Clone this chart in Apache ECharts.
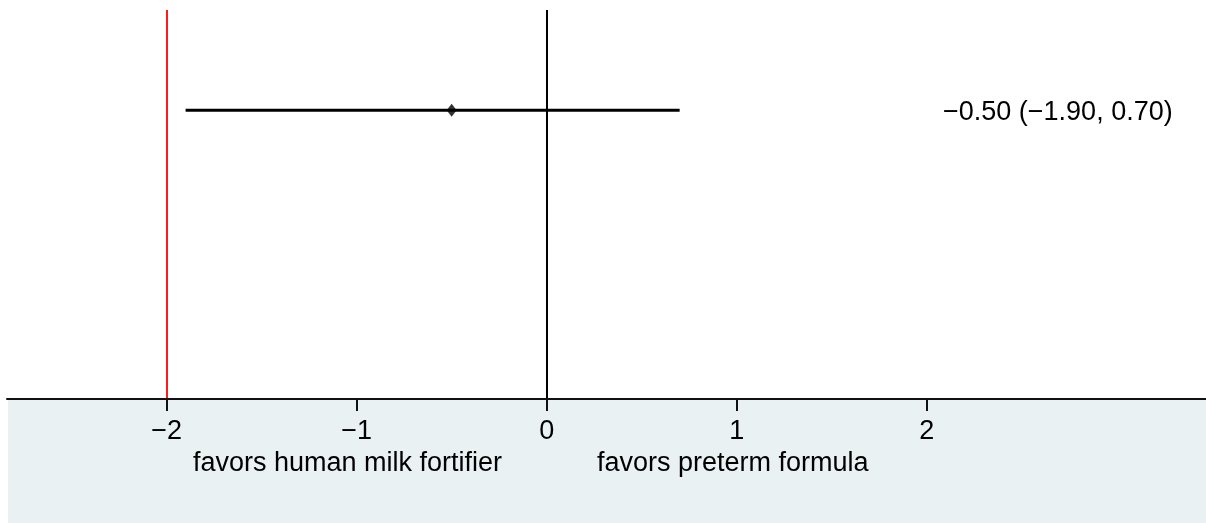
<!DOCTYPE html>
<html>
<head>
<meta charset="utf-8">
<script src="https://cdn.jsdelivr.net/npm/echarts@6/dist/echarts.min.js"></script>
<style>
html,body{margin:0;padding:0;background:#fff;}
#c{width:1206px;height:523px;}
</style>
</head>
<body>
<div id="c"></div>
<script>
const tickValues = [-2, -1, 0, 1, 2];
const studyY = [0.742];
const estimate = [-0.50];
const ciLower = [-1.90];
const ciUpper = [0.70];
const estimateLabels = ['−0.50 (−1.90, 0.70)'];
const referenceLine = -2;
const nullLine = 0;
const favorsLeft = 'favors human milk fortifier';
const favorsRight = 'favors preterm formula';

const fmt = v => String(v).replace('-', '−');
const font = 'Liberation Sans, Arial, Helvetica, sans-serif';
const fs = 27;

const chart = echarts.init(document.getElementById('c'));
const ciData = [];
estimate.forEach((e, i) => {
  ciData.push([ciLower[i], studyY[i]], [ciUpper[i], studyY[i]]);
});

chart.setOption({
  animation: false,
  grid: { left: 7, right: 0, top: 10, bottom: 124 },
  xAxis: {
    type: 'value', min: -2.84, max: 3.47, z: 200,
    splitLine: { show: false },
    axisLine: { show: true, onZero: false, lineStyle: { color: '#111', width: 2 } },
    axisTick: { show: true, inside: false, customValues: tickValues, length: 12, lineStyle: { color: '#111', width: 2 } },
    axisLabel: { customValues: tickValues, formatter: fmt, color: '#000', fontSize: fs, fontFamily: font, margin: 19 }
  },
  yAxis: {
    type: 'value', min: 0, max: 1, show: false, splitLine: { show: false }
  },
  series: [
    {
      type: 'line', data: ciData, symbol: 'none', silent: true,
      lineStyle: { color: '#000', width: 3 },
      markLine: {
        silent: true, symbol: 'none', label: { show: false },
        data: [
          { xAxis: nullLine, lineStyle: { color: '#000', width: 2, type: 'solid' } },
          { xAxis: referenceLine, lineStyle: { color: '#ff1a1a', width: 2, type: 'solid' } }
        ]
      }
    },
    {
      type: 'scatter', symbol: 'diamond', symbolSize: [10, 13],
      itemStyle: { color: '#000' },
      data: estimate.map((e, i) => [e, studyY[i]]),
      z: 5
    }
  ]
});

const yPix = chart.convertToPixel({ gridIndex: 0 }, [0, studyY[0]])[1];
chart.setOption({
  graphic: [
    { type: 'rect', z: -100, zlevel: -1, silent: true, shape: { x: 8, y: 400, width: 1198, height: 123 }, style: { fill: '#e9f1f3' } },
    { type: 'text', left: 943, top: yPix - 11, style: { text: estimateLabels[0], font: fs + 'px ' + font, fill: '#000' } },
    { type: 'text', left: 193, top: 450, style: { text: favorsLeft, font: fs + 'px ' + font, fill: '#000' } },
    { type: 'text', left: 597, top: 450, style: { text: favorsRight, font: fs + 'px ' + font, fill: '#000' } }
  ]
});
</script>
</body>
</html>
